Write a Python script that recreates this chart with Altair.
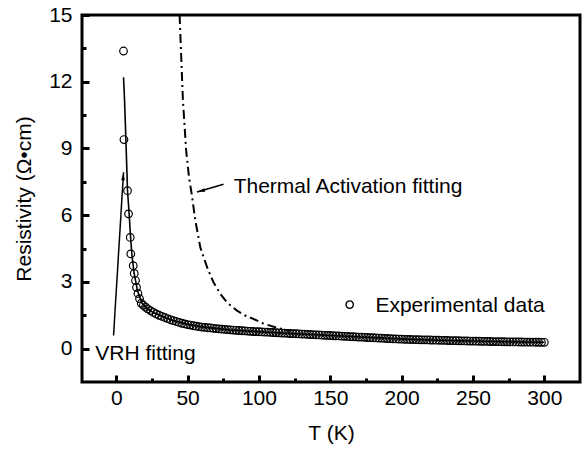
import altair as alt
import pandas as pd

# ---------------- data ----------------
exp_T = [5.1, 5.4, 7.9, 8.6, 9.8, 10.2, 11.9, 12.6, 13.5, 14.2, 15.2, 16.3, 17.5,
         19, 20.5, 22, 24, 26, 28,
         30, 32, 34, 36, 38, 40, 42, 44, 46, 48, 50, 52, 54, 56, 58, 60,
         62, 64, 66, 68, 70, 72, 74, 76, 78, 80, 82, 84, 86, 88, 90, 92, 94, 96,
         98, 100, 102, 104, 106, 108, 110, 112, 114, 116, 118, 120, 122, 124, 126,
         128, 130, 132, 134, 136, 138, 140, 142, 144, 146, 148, 150, 152, 154,
         156, 158, 160, 162, 164, 166, 168, 170, 172, 174, 176, 178, 180, 182,
         184, 186, 188, 190, 192, 194, 196, 198, 200, 202, 204, 206, 208, 210,
         212, 214, 216, 218, 220, 222, 224, 226, 228, 230, 232, 234, 236, 238,
         240, 242, 244, 246, 248, 250, 252, 254, 256, 258, 260, 262, 264, 266,
         268, 270, 272, 274, 276, 278, 280, 282, 284, 286, 288, 290, 292, 294,
         296, 298, 300]
exp_R = [13.38, 9.4, 7.1, 6.06, 5.0, 4.26, 3.73, 3.38, 3.06, 2.75, 2.48, 2.25, 2.04,
         1.95, 1.87, 1.79, 1.71, 1.63, 1.56,
         1.50, 1.45, 1.40, 1.35, 1.30, 1.26, 1.22, 1.18, 1.14, 1.11, 1.08, 1.06,
         1.03, 1.01, 0.99, 0.97,
         0.955, 0.94, 0.93, 0.915, 0.90, 0.89, 0.875, 0.865, 0.855, 0.845, 0.835,
         0.825, 0.815, 0.805, 0.80, 0.79, 0.78, 0.77, 0.765, 0.76, 0.75, 0.745,
         0.74, 0.73, 0.725, 0.715, 0.71, 0.70, 0.695, 0.69, 0.68, 0.675, 0.67,
         0.66, 0.655, 0.65, 0.64, 0.635, 0.63, 0.62, 0.615, 0.61, 0.60, 0.595,
         0.59, 0.58, 0.575, 0.57, 0.56, 0.555, 0.55, 0.54, 0.535, 0.53, 0.52,
         0.515, 0.51, 0.50, 0.495, 0.49, 0.48, 0.475, 0.47, 0.46, 0.455, 0.45,
         0.44, 0.435, 0.43, 0.425, 0.42, 0.415, 0.412, 0.408, 0.405, 0.40, 0.397,
         0.394, 0.39, 0.387, 0.384, 0.38, 0.377, 0.374, 0.37, 0.367, 0.364, 0.36,
         0.357, 0.354, 0.35, 0.347, 0.344, 0.341, 0.338, 0.335, 0.332, 0.329,
         0.326, 0.323, 0.32, 0.318, 0.316, 0.313, 0.311, 0.309, 0.307, 0.305,
         0.303, 0.301, 0.299, 0.297, 0.295, 0.293, 0.291, 0.289, 0.288, 0.286,
         0.285, 0.284]

vrh_T = [5.1, 5.8, 6.5, 7.2, 7.9, 9.0, 10.0, 10.9, 12.5, 14.9, 18, 22, 26, 30, 35,
         40, 50, 60, 80, 100, 125, 150, 175, 200, 225, 250, 275, 300]
vrh_R = [12.2, 11.2, 9.9, 8.5, 7.1, 6.1, 5.05, 4.27, 3.4, 2.6, 2.05, 1.78, 1.62,
         1.51, 1.38, 1.26, 1.10, 0.98, 0.84, 0.76, 0.67, 0.59, 0.51, 0.43, 0.38,
         0.34, 0.31, 0.285]

ta_T = [44.4, 46.7, 49.0, 51.0, 53.0, 55.4, 58.9, 63.6, 68.0, 72.9, 78.0, 84.6,
        90.0, 96.0, 103.0, 112.0, 122.0]
ta_R = [15.0, 11.2, 8.9, 7.7, 6.9, 5.77, 4.56, 3.67, 3.0, 2.46, 2.05, 1.71,
        1.50, 1.34, 1.13, 0.95, 0.79]

x_major = [0, 50, 100, 150, 200, 250, 300]
x_minor = [25, 75, 125, 175, 225, 275]
y_major = [0, 3, 6, 9, 12, 15]
y_minor = [1.5, 4.5, 7.5, 10.5, 13.5]

X_DOMAIN = [-24, 325]
Y_DOMAIN = [-1.5, 15]

# annotation anchors (data coordinates)
labels_df = pd.DataFrame({
    "T": [82.3, 181.6, -14.7],
    "R": [7.0, 1.64, -0.51],
    "txt": ["Thermal Activation fitting", "Experimental data", "VRH fitting"],
})
legend_marker = pd.DataFrame({"T": [163.6], "R": [1.98]})
arrow_vrh = pd.DataFrame({"T": [-1.9], "R": [0.59], "T2": [5.1], "R2": [7.93]})
arrow_ta = pd.DataFrame({"T": [75.2], "R": [7.39], "T2": [56.6], "R2": [7.04]})

FONT = "Liberation Sans"
FS = 21

xs = alt.Scale(domain=X_DOMAIN, nice=False, zero=False)
ys = alt.Scale(domain=Y_DOMAIN, nice=False, zero=False)

exp_df = pd.DataFrame({"T": exp_T, "R": exp_R})
vrh_df = pd.DataFrame({"T": vrh_T, "R": vrh_R})
ta_df = pd.DataFrame({"T": ta_T, "R": ta_R})

x_major_axis = alt.Axis(values=x_major, orient="bottom", tickSize=7, offset=-7,
                        domain=False, grid=False, labelPadding=5, tickWidth=3,
                        title="T (K)", titlePadding=14)
y_major_axis = alt.Axis(values=y_major, orient="left", tickSize=7, offset=-7,
                        domain=False, grid=False, labelPadding=10, tickWidth=3,
                        title="Resistivity (Ω•cm)", titlePadding=14)
x_minor_axis = alt.Axis(values=x_minor, orient="bottom", tickSize=4, offset=-4,
                        domain=False, grid=False, labels=False, tickWidth=3,
                        title=None)
y_minor_axis = alt.Axis(values=y_minor, orient="left", tickSize=4, offset=-4,
                        domain=False, grid=False, labels=False, tickWidth=3,
                        title=None)

points = alt.Chart(exp_df).mark_point(
    shape="circle", filled=False, size=58, stroke="black", strokeWidth=1.2,
    opacity=1, clip=True
).encode(
    x=alt.X("T:Q", scale=xs, axis=x_major_axis),
    y=alt.Y("R:Q", scale=ys, axis=y_major_axis),
)

vrh = alt.Chart(vrh_df).mark_line(color="black", strokeWidth=1.6, clip=True).encode(
    x=alt.X("T:Q", scale=xs, axis=x_minor_axis),
    y=alt.Y("R:Q", scale=ys, axis=y_minor_axis),
)

ta = alt.Chart(ta_df).mark_line(
    color="black", strokeWidth=2, strokeDash=[9, 4, 2, 4], clip=True
).encode(
    x=alt.X("T:Q", scale=xs, axis=None),
    y=alt.Y("R:Q", scale=ys, axis=None),
)

texts = alt.Chart(labels_df).mark_text(
    align="left", baseline="alphabetic", font=FONT, fontSize=FS, color="black"
).encode(
    x=alt.X("T:Q", scale=xs, axis=None),
    y=alt.Y("R:Q", scale=ys, axis=None),
    text="txt:N",
)

legend_pt = alt.Chart(legend_marker).mark_point(
    shape="circle", filled=False, size=55, stroke="black", strokeWidth=1.4, opacity=1
).encode(
    x=alt.X("T:Q", scale=xs, axis=None),
    y=alt.Y("R:Q", scale=ys, axis=None),
)

ARROW = "M0,0L-0.38,1.7L0.38,1.7Z"


def arrow(df, angle):
    line = alt.Chart(df).mark_rule(color="black", strokeWidth=1.5).encode(
        x=alt.X("T:Q", scale=xs, axis=None),
        y=alt.Y("R:Q", scale=ys, axis=None),
        x2="T2:Q",
        y2="R2:Q",
    )
    head = alt.Chart(df).mark_point(
        shape=ARROW, filled=True, color="black", size=90, angle=angle, opacity=1
    ).encode(
        x=alt.X("T2:Q", scale=xs, axis=None),
        y=alt.Y("R2:Q", scale=ys, axis=None),
    )
    return line + head


chart = alt.layer(
    points, vrh, ta, texts, legend_pt, arrow(arrow_vrh, 3.5), arrow(arrow_ta, 254.5)
).resolve_axis(
    x="independent", y="independent"
).properties(
    width=498, height=367,
    autosize=alt.AutoSizeParams(type="none"),
    padding={"left": 82, "top": 15, "right": 3, "bottom": 72},
).configure_view(
    stroke="black", strokeWidth=3
).configure_axis(
    labelFont=FONT, labelFontSize=FS, labelColor="black",
    titleFont=FONT, titleFontSize=FS, titleFontWeight="normal", titleColor="black",
    tickColor="black",
)

chart.save("out.html", embed_options={"renderer": "svg", "actions": False})
